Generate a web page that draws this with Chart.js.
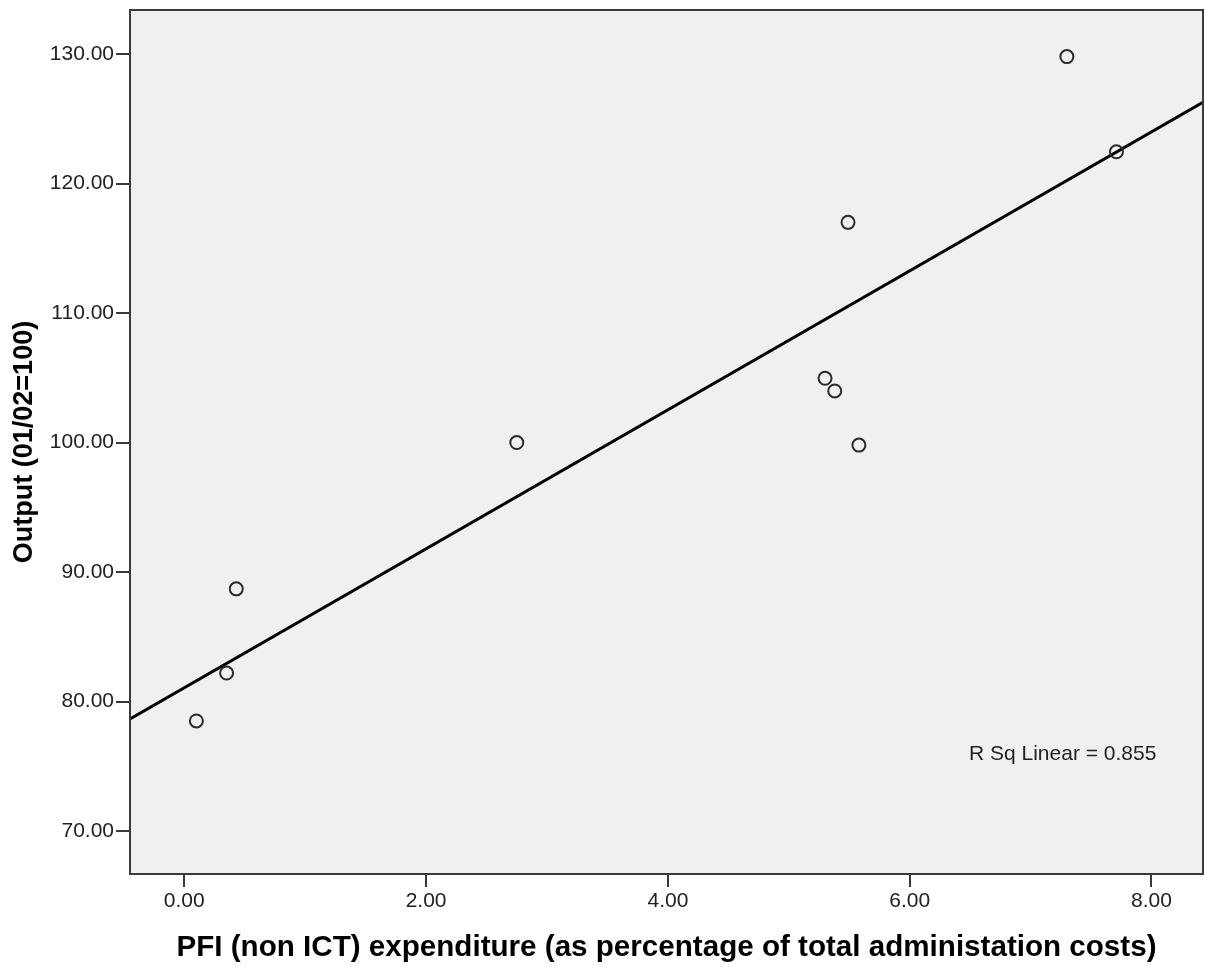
<!DOCTYPE html>
<html>
<head>
<meta charset="utf-8">
<script src="https://cdn.jsdelivr.net/npm/chart.js@4.4.1/dist/chart.umd.min.js"></script>
<style>
  html, body { margin: 0; padding: 0; background: #ffffff; }
  #wrap { width: 1205px; height: 967px; }
</style>
</head>
<body>
<div id="wrap"><canvas id="c" width="1205" height="967"></canvas></div>
<script>
// ---- data ----
const pfiExpenditure = [0.10, 0.35, 0.43, 2.75, 5.49, 5.30, 5.38, 5.58, 7.30, 7.71];
const outputIndex    = [78.5, 82.2, 88.7, 100.0, 117.0, 104.96, 103.98, 99.8, 129.8, 122.45];
const xTicks = [0, 2, 4, 6, 8];
const yTicks = [70, 80, 90, 100, 110, 120, 130];
const xRange = [-0.449, 8.426];
const yRange = [66.68, 133.4];
const xTitle = 'PFI (non ICT) expenditure (as percentage of total administation costs)';
const yTitle = 'Output (01/02=100)';
const rSquaredLabel = 'R Sq Linear = 0.855';

// least-squares fit from the data
const n = pfiExpenditure.length;
const mx = pfiExpenditure.reduce((a, b) => a + b, 0) / n;
const my = outputIndex.reduce((a, b) => a + b, 0) / n;
let sxy = 0, sxx = 0;
for (let i = 0; i < n; i++) {
  sxy += (pfiExpenditure[i] - mx) * (outputIndex[i] - my);
  sxx += (pfiExpenditure[i] - mx) ** 2;
}
const slope = sxy / sxx;
const intercept = my - slope * mx;
const fitLine = xRange.map(x => ({ x: x, y: intercept + slope * x }));

const points = pfiExpenditure.map((x, i) => ({ x: x, y: outputIndex[i] }));

const frameColor = '#3a3a3a';

const plotDecor = {
  id: 'plotDecor',
  beforeDatasetsDraw(chart) {
    const { ctx, chartArea: a } = chart;
    ctx.save();
    ctx.fillStyle = '#f0f0f0';
    ctx.fillRect(a.left, a.top, a.right - a.left, a.bottom - a.top);
    ctx.restore();
  },
  afterDraw(chart) {
    const { ctx, chartArea: a } = chart;
    ctx.save();
    ctx.strokeStyle = frameColor;
    ctx.lineWidth = 2;
    ctx.strokeRect(a.left, a.top, a.right - a.left, a.bottom - a.top);
    ctx.font = '21px "Liberation Sans", Arial, sans-serif';
    ctx.fillStyle = '#222';
    ctx.textAlign = 'left';
    ctx.textBaseline = 'alphabetic';
    ctx.fillText(rSquaredLabel, a.right - 234, a.bottom - 114);
    ctx.restore();
  }
};

new Chart(document.getElementById('c'), {
  type: 'scatter',
  data: {
    datasets: [
      {
        type: 'line',
        data: fitLine,
        borderColor: '#000',
        borderWidth: 3,
        pointRadius: 0,
        fill: false,
        order: 2
      },
      {
        data: points,
        pointRadius: 6.5,
        pointBorderWidth: 2,
        borderColor: '#2a2a2a',
        backgroundColor: 'rgba(0,0,0,0)',
        pointBackgroundColor: 'rgba(0,0,0,0)',
        pointBorderColor: '#2a2a2a',
        order: 1
      }
    ]
  },
  options: {
    responsive: false,
    animation: false,
    devicePixelRatio: 1,
    layout: { autoPadding: false, padding: { top: 10, right: 2, left: 0, bottom: 0 } },
    plugins: { legend: { display: false }, tooltip: { enabled: false } },
    scales: {
      x: {
        type: 'linear',
        min: xRange[0],
        max: xRange[1],
        afterBuildTicks: s => { s.ticks = xTicks.map(v => ({ value: v })); },
        afterFit: s => { s.height = 93; s.paddingLeft = 0; s.paddingRight = 0; },
        grid: { drawOnChartArea: false, drawTicks: true, tickLength: 13, color: frameColor, lineWidth: 2 },
        border: { display: true, color: frameColor, width: 2 },
        ticks: {
          padding: 2,
          maxRotation: 0,
          autoSkip: false,
          color: '#222',
          font: { family: '"Liberation Sans", Arial, sans-serif', size: 21 },
          callback: v => Number(v).toFixed(2)
        },
        title: {
          display: true,
          text: xTitle,
          color: '#000',
          font: { family: '"Liberation Sans", Arial, sans-serif', size: 29.6, weight: 'bold', lineHeight: 1.2 },
          padding: { top: 0, bottom: 1 }
        }
      },
      y: {
        type: 'linear',
        min: yRange[0],
        max: yRange[1],
        afterBuildTicks: s => { s.ticks = yTicks.map(v => ({ value: v })); },
        afterFit: s => { s.width = 130; s.paddingTop = 0; s.paddingBottom = 0; },
        grid: { drawOnChartArea: false, drawTicks: true, tickLength: 14, color: frameColor, lineWidth: 2 },
        border: { display: true, color: frameColor, width: 2 },
        ticks: {
          padding: 2,
          autoSkip: false,
          color: '#222',
          font: { family: '"Liberation Sans", Arial, sans-serif', size: 21 },
          callback: v => Number(v).toFixed(2)
        },
        title: {
          display: true,
          text: yTitle,
          color: '#000',
          font: { family: '"Liberation Sans", Arial, sans-serif', size: 27, weight: 'bold', lineHeight: 1.2 },
          padding: { top: 8, bottom: 0 }
        }
      }
    }
  },
  plugins: [plotDecor]
});
</script>
</body>
</html>
